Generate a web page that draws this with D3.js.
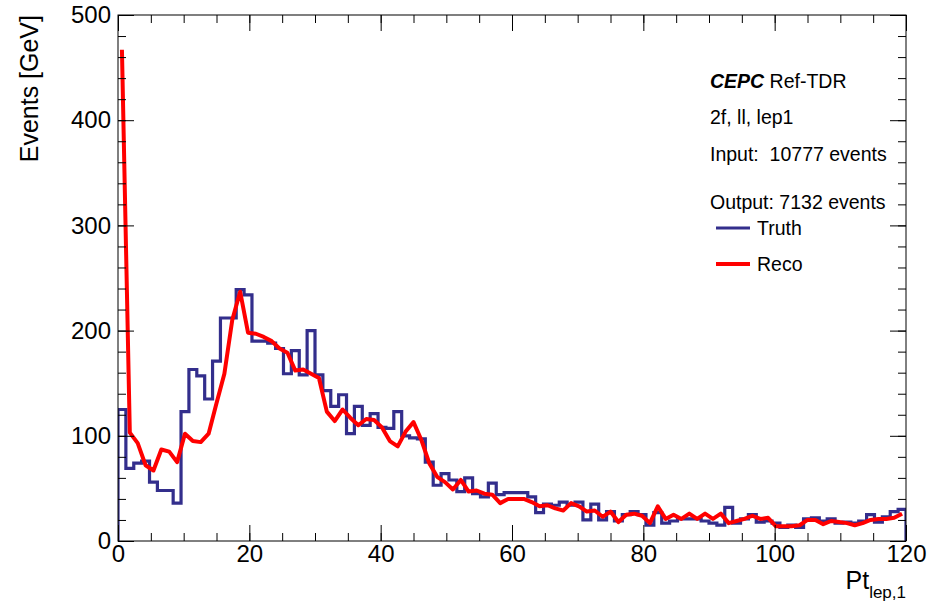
<!DOCTYPE html>
<html lang="en">
<head>
<meta charset="UTF-8">
<title>Pt lep1</title>
<script src="https://d3js.org/d3.v7.min.js"></script>
<style>
  body { margin: 0; background: #fff; }
  text { font-family: "Liberation Sans", Helvetica, Arial, sans-serif; }
</style>
</head>
<body>
<script>
    // histogram: 100 bins, 0..120
    var binWidth = 1.2;
    var truth = [125, 69, 74, 76, 56, 48, 48, 36, 123, 163,
                 157, 135, 171, 212, 212, 239, 234, 190, 190, 188,
                 183, 159, 181, 158, 200, 158, 143, 128, 139, 102,
                 128, 110, 121, 108, 107, 123, 100, 98, 97, 75,
                 53, 64, 58, 47, 60, 45, 42, 55, 44, 46,
                 46, 46, 42, 27, 35, 34, 37, 34, 37, 20,
                 35, 20, 28, 19, 25, 28, 25, 15, 27, 17,
                 19, 21, 21, 21, 19, 17, 15, 32, 17, 21,
                 25, 18, 19, 17, 13, 15, 13, 21, 22, 19,
                 21, 17, 18, 17, 19, 25, 18, 23, 28, 30];
    var reco = [467, 103, 93, 72, 67, 87, 85, 75, 102, 95,
                94, 102, 131, 159, 210, 237, 198, 197, 194, 190,
                183, 179, 162, 163, 159, 155, 123, 114, 125, 117,
                110, 116, 115, 108, 95, 90, 104, 113, 96, 74,
                61, 56, 49, 58, 47, 48, 45, 44, 36, 40,
                40, 40, 37, 33, 34, 31, 29, 36, 33, 28,
                29, 23, 28, 18, 25, 26, 24, 17, 33, 21,
                25, 21, 26, 21, 26, 21, 26, 17, 19, 21,
                24, 21, 22, 14, 14, 14, 15, 20, 20, 16,
                19, 18, 17, 15, 17, 20, 21, 21, 22, 26];
    var xTicks = [0, 20, 40, 60, 80, 100, 120];
    var yTicks = [0, 100, 200, 300, 400, 500];
    var infoLines = ["2f, ll, lep1", "Input:  10777 events", "Output: 7132 events"];
    var legendNames = ["Truth", "Reco"];

    var width = 931, height = 607;
    var padL = 118, padR = 906, padT = 15, padB = 541;
    var truthColor = "#332e8c", recoColor = "#ff0000";

    var svg = d3.select("body").append("svg")
        .attr("width", width)
        .attr("height", height);

    var x = d3.scaleLinear().domain([0, 120]).range([padL, padR]);
    var y = d3.scaleLinear().domain([0, 500]).range([padB, padT]);

    svg.append("defs").append("clipPath").attr("id", "clip")
        .append("rect")
        .attr("x", padL).attr("y", padT)
        .attr("width", padR - padL).attr("height", padB - padT);

    // truth as step outline
    var steps = [[0, 0]];
    truth.forEach(function(v, i) {
        steps.push([i * binWidth, v]);
        steps.push([(i + 1) * binWidth, v]);
    });
    steps.push([truth.length * binWidth, 0]);

    var line = d3.line()
        .x(function(d) { return x(d[0]); })
        .y(function(d) { return y(d[1]); });

    var plot = svg.append("g").attr("clip-path", "url(#clip)");

    plot.append("path")
        .attr("d", line(steps))
        .style("fill", "none")
        .style("stroke", truthColor)
        .style("stroke-width", 3.2);

    var recoPts = reco.map(function(v, i) { return [(i + 0.5) * binWidth, v]; });
    plot.append("path")
        .attr("d", line(recoPts))
        .style("fill", "none")
        .style("stroke", recoColor)
        .style("stroke-width", 4)
        .style("stroke-linejoin", "round");

    // axes, ticks pointing inward on all four sides
    function styleAxis(g) {
        g.select(".domain").remove();
        g.selectAll("line").style("stroke", "#000");
        g.selectAll("text").style("font-size", "24px").style("fill", "#000")
            .style("font-family", "Liberation Sans, Helvetica, Arial, sans-serif");
    }
    var xMinor = d3.range(0, 121, 5), yMinor = d3.range(0, 501, 20);

    svg.append("g").attr("transform", "translate(0," + padB + ")")
        .call(d3.axisBottom(x).tickValues(xTicks).tickSize(-16).tickPadding(4).tickFormat(d3.format("d")))
        .call(styleAxis);
    svg.append("g").attr("transform", "translate(0," + padB + ")")
        .call(d3.axisBottom(x).tickValues(xMinor).tickSize(-8).tickFormat(""))
        .call(styleAxis);
    svg.append("g").attr("transform", "translate(0," + padT + ")")
        .call(d3.axisTop(x).tickValues(xTicks).tickSize(-16).tickFormat(""))
        .call(styleAxis);
    svg.append("g").attr("transform", "translate(0," + padT + ")")
        .call(d3.axisTop(x).tickValues(xMinor).tickSize(-8).tickFormat(""))
        .call(styleAxis);

    svg.append("g").attr("transform", "translate(" + padL + ",0)")
        .call(d3.axisLeft(y).tickValues(yTicks).tickSize(-16).tickPadding(7).tickFormat(d3.format("d")))
        .call(styleAxis);
    svg.append("g").attr("transform", "translate(" + padL + ",0)")
        .call(d3.axisLeft(y).tickValues(yMinor).tickSize(-8).tickFormat(""))
        .call(styleAxis);
    svg.append("g").attr("transform", "translate(" + padR + ",0)")
        .call(d3.axisRight(y).tickValues(yTicks).tickSize(-16).tickFormat(""))
        .call(styleAxis);
    svg.append("g").attr("transform", "translate(" + padR + ",0)")
        .call(d3.axisRight(y).tickValues(yMinor).tickSize(-8).tickFormat(""))
        .call(styleAxis);

    // frame
    svg.append("rect")
        .attr("x", padL).attr("y", padT)
        .attr("width", padR - padL).attr("height", padB - padT)
        .style("fill", "none").style("stroke", "#000").style("stroke-width", 1);

    // axis titles
    svg.append("text")
        .attr("transform", "translate(38," + padT + ") rotate(-90)")
        .attr("text-anchor", "end")
        .style("font-size", "25px")
        .text("Events [GeV]");

    var xt = svg.append("text")
        .attr("x", padR).attr("y", 589)
        .attr("text-anchor", "end")
        .style("font-size", "25px");
    xt.append("tspan").text("Pt");
    xt.append("tspan").attr("dy", 9).style("font-size", "17px").text("lep,1");

    // info box
    var info = svg.append("g").attr("transform", "translate(710,0)");
    var t0 = info.append("text").attr("y", 88).style("font-size", "19.5px");
    t0.append("tspan").style("font-weight", "bold").style("font-style", "italic").text("CEPC");
    t0.append("tspan").text(" Ref-TDR");
    var infoY = [124, 161, 209];
    infoLines.forEach(function(s, i) {
        info.append("text").attr("y", infoY[i])
            .style("font-size", "19.5px")
            .style("white-space", "pre")
            .attr("xml:space", "preserve")
            .text(s);
    });

    var legY = [228, 264];
    var legColors = [truthColor, recoColor];
    var legWidths = [3.2, 4];
    legendNames.forEach(function(name, i) {
        info.append("line")
            .attr("x1", 6).attr("x2", 40)
            .attr("y1", legY[i]).attr("y2", legY[i])
            .style("stroke", legColors[i]).style("stroke-width", legWidths[i]);
        info.append("text").attr("x", 47).attr("y", legY[i] + 7)
            .style("font-size", "19.5px")
            .text(name);
    });
</script>
</body>
</html>
